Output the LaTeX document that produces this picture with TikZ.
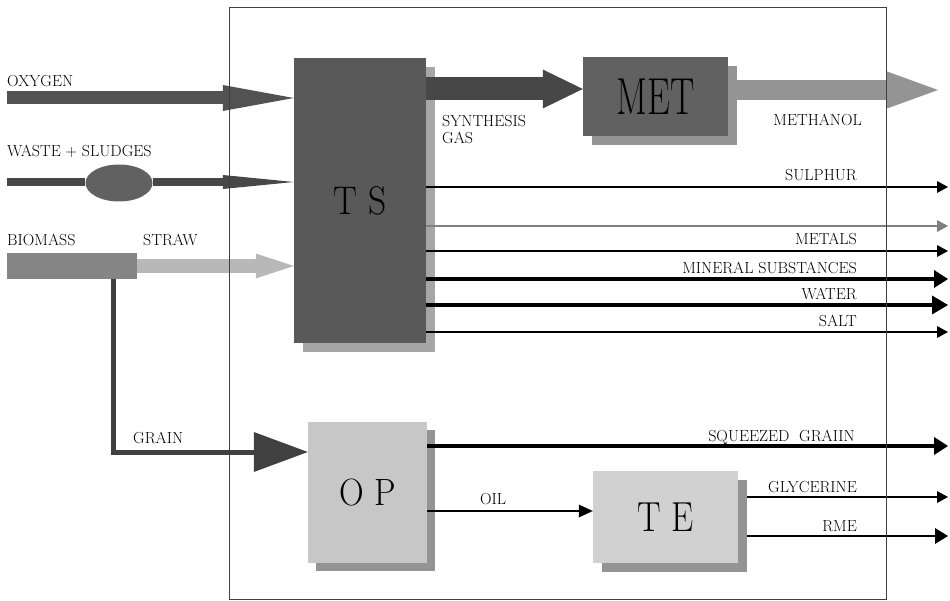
\documentclass[tikz,border=0pt]{standalone}
\usetikzlibrary{arrows.meta,shapes.geometric,shadows}

\begin{document}
\begin{tikzpicture}[
  x=1pt, y=-1pt,
  lbl/.style={font=\fontsize{16}{19}\selectfont, inner sep=0pt},
  unit/.style={inner sep=0pt, draw=none},
  thinout/.style={line width=1.2pt, -{Triangle[width=12pt,length=11pt,line width=0pt]}},
  midout/.style={line width=2.6pt, -{Triangle[width=16pt,length=13pt,line width=0pt]}},
  fatout/.style={line width=3.2pt, -{Triangle[width=18pt,length=14pt,line width=0pt]}},
  frame/.style={line width=0.6pt, black!75}
]
\useasboundingbox (0,0) rectangle (950,601);

% process units
\node[unit, font=\fontsize{40}{40}\selectfont, fill=black!65,
  minimum width=132pt, minimum height=285pt,
  drop shadow={shadow xshift=9pt, shadow yshift=-9pt, fill=black!35, opacity=1}]
  (TS) at (360,200.5) {\scalebox{0.89}[1]{T S}};
\node[unit, font=\fontsize{52}{52}\selectfont, fill=black!62,
  minimum width=145pt, minimum height=79pt,
  drop shadow={shadow xshift=9pt, shadow yshift=-9pt, fill=black!42, opacity=1}]
  (MET) at (655.5,96.5) {\scalebox{0.7}[1]{MET}};
\node[unit, font=\fontsize{38}{38}\selectfont, fill=black!22,
  minimum width=119pt, minimum height=141pt,
  drop shadow={shadow xshift=8pt, shadow yshift=-8pt, fill=black!42, opacity=1}]
  (OP) at (367.5,492.5) {\scalebox{0.9}[1]{O P}};
\node[unit, font=\fontsize{42}{42}\selectfont, fill=black!18,
  minimum width=145pt, minimum height=92pt,
  drop shadow={shadow xshift=9pt, shadow yshift=-9pt, fill=black!42, opacity=1}]
  (TE) at (665.5,517) {\scalebox{0.84}[1]{T E}};

% inputs
\coordinate (oxy) at (7,98);
\draw[black!68, line width=13pt, -{Triangle[width=26pt,length=71pt,line width=0pt]}]
  (oxy) -- (oxy -| TS.west);
\node[lbl, anchor=base west] (oxygen) at (7,87) {OXYGEN};

\coordinate (waste) at (7,182);
\node[ellipse, fill=black!62, minimum width=67pt, minimum height=37pt]
  (sludge) at (119,183) {};
\draw[black!72, line width=8pt] (waste) -- (sludge.west |- waste);
\draw[black!72, line width=8pt, -{Triangle[width=14pt,length=71pt,line width=0pt]}]
  (sludge.east |- waste) -- (waste -| TS.west);
\node[lbl, anchor=base west] (wastelbl) at (7,157) {WASTE + SLUDGES};

\node[unit, fill=black!48, minimum width=130pt, minimum height=26pt]
  (biomass) at (72,266) {};
\draw[black!28, line width=14pt, -{Triangle[width=25pt,length=38pt,line width=0pt]}]
  (biomass.east) -- (biomass.east -| TS.west);
\node[lbl, anchor=base west] (biomasslbl) at (7,246) {BIOMASS};
\node[lbl, anchor=base west] (straw) at (143,246) {STRAW};

\coordinate (bend) at (113,452);
\draw[black!75, line width=5pt, line join=miter,
  -{Triangle[width=40pt,length=54pt,line width=0pt]}]
  (biomass.south -| bend) -- (bend) -- (bend -| OP.west);
\node[lbl, anchor=base west] (grain) at (133,443) {GRAIN};

% gas to methanol
\draw[black!72, line width=23pt, -{Triangle[width=39pt,length=40pt,line width=0pt]}]
  (TS.east |- 0,89) -- (MET.west |- 0,89);
\node[lbl, anchor=base west] (synth) at (442,127) {SYNTHESIS};
\node[lbl, anchor=base west] (gas) at (442,144) {GAS};

\coordinate (rim) at (948,0);
\draw[black!42, line width=20pt, -{Triangle[width=37pt,length=51pt,line width=0pt]}]
  (MET.east |- 0,90) -- (938,90);
\node[lbl, anchor=base east] (methanol) at (862,126) {METHANOL};

% outputs of TS
\draw[thinout] (TS.east |- 0,187) -- (rim |- 0,187);
\node[lbl, anchor=base east] (sulphur) at (857,181) {SULPHUR};
\draw[thinout, black!50, line width=1.6pt] (TS.east |- 0,226) -- (rim |- 0,226);
\draw[thinout] (TS.east |- 0,251) -- (rim |- 0,251);
\node[lbl, anchor=base east] (metals) at (857,245) {METALS};
\draw[fatout] (TS.east |- 0,279) -- (rim |- 0,279);
\node[lbl, anchor=base east] (mineral) at (857,274) {MINERAL SUBSTANCES};
\draw[line width=4.5pt, -{Triangle[width=19pt,length=16pt,line width=0pt]}]
  (TS.east |- 0,305) -- (rim |- 0,305);
\node[lbl, anchor=base east] (water) at (857,300) {WATER};
\draw[thinout] (TS.east |- 0,332) -- (rim |- 0,332);
\node[lbl, anchor=base east] (salt) at (857,327) {SALT};

% outputs of OP and TE
\draw[fatout] (OP.east |- 0,446) -- (rim |- 0,446);
\node[lbl, anchor=base east] (squeezed) at (855,441) {SQUEEZED\ \ GRAIIN};
\draw[line width=2pt, -{Triangle[width=13pt,length=14pt,line width=0pt]}]
  (OP.east |- 0,511) -- (TE.west |- 0,511);
\node[lbl, anchor=base west] (oil) at (480,504) {OIL};
\draw[thinout] ([xshift=9pt]TE.east |- 0,497) -- (rim |- 0,497);
\node[lbl, anchor=base east] (glycerine) at (857,492) {GLYCERINE};
\draw[midout] ([xshift=9pt]TE.east |- 0,536) -- (rim |- 0,536);
\node[lbl, anchor=base east] (rme) at (857,531) {RME};

% plant boundary
\draw[frame] (229,7) rectangle (886,599);
\end{tikzpicture}
\end{document}
